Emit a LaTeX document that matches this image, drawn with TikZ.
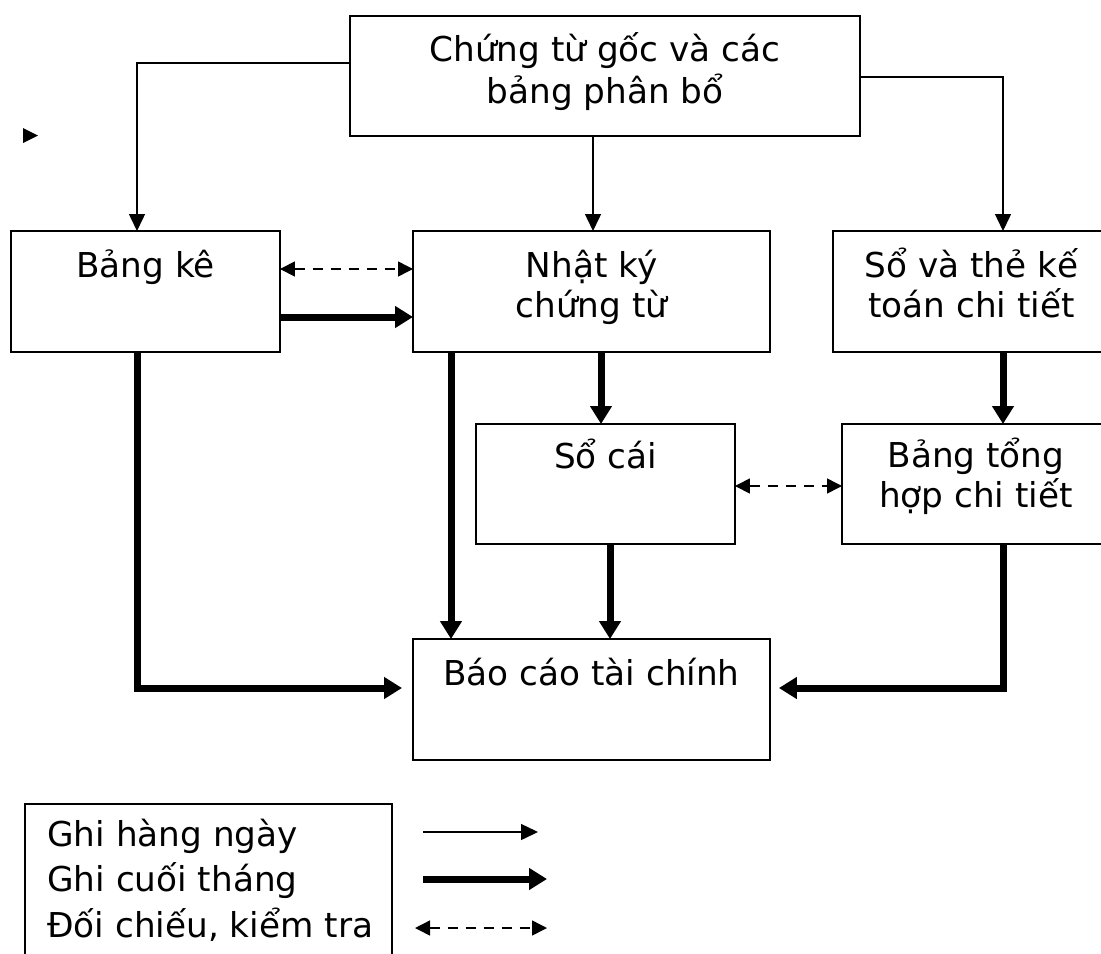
\documentclass[tikz,border=0pt]{standalone}
\usepackage{fontspec}
\setmainfont{DejaVu Sans}
\usepackage{tikz}
\usetikzlibrary{arrows.meta, positioning}

\tikzset{
    box/.style={draw, rectangle, line width=0.85pt, outer sep=0pt, inner sep=0pt, anchor=north west},
    lbl/.style={anchor=north, inner sep=0pt, align=center, text height=0.92cm,
        font=\fontsize{19.5}{22.8}\selectfont},
    lbltwo/.style={lbl, text height=1.72cm},
    thin/.style={line width=0.85pt, -{Triangle[length=0.34cm, width=0.32cm]}},
    thick/.style={line width=0.14cm, -{Triangle[length=0.36cm, width=0.42cm]}},
    doi/.style={line width=0.85pt, dash pattern=on 0.2cm off 0.16cm,
        {Triangle[length=0.3cm, width=0.3cm]}-{Triangle[length=0.3cm, width=0.3cm]}}
}

\begin{document}
\begin{tikzpicture}[x=0.02cm, y=-0.02cm]
        \useasboundingbox (0,0) rectangle (1101,953);

        \node[box, minimum width=10.2cm, minimum height=2.4cm,
            label={[lbltwo, text height=1.74cm, font=\fontsize{19.5}{24}\selectfont]north:Chứng từ gốc và các\\bảng phân bổ}] (src) at (350,16) {};
        \node[box, minimum width=5.38cm, minimum height=2.42cm,
            label={[lbl]north:Bảng kê}] (bk) at (11,231) {};
        \node[box, minimum width=7.14cm, minimum height=2.42cm,
            label={[lbltwo]north:Nhật ký\\chứng từ}] (nk) at (413,231) {};
        \node[box, minimum width=5.54cm, minimum height=2.42cm,
            label={[lbltwo]north:Sổ và thẻ kế\\toán chi tiết}] (sct) at (833,231) {};
        \node[box, minimum width=5.18cm, minimum height=2.4cm,
            label={[lbl, text height=0.88cm]north:Sổ cái}] (sc) at (476,424) {};
        \node[box, minimum width=5.36cm, minimum height=2.4cm,
            label={[lbltwo, text height=1.66cm]north:Bảng tổng\\hợp chi tiết}] (bth) at (842,424) {};
        \node[box, minimum width=7.14cm, minimum height=2.42cm,
            label={[lbl]north:Báo cáo tài chính}] (bctc) at (413,639) {};

        \fill (23,128) -- (38,135.5) -- (23,143) -- cycle;

        \draw[thin] (src.west |- 0,63) -| (bk.north -| 137,0);
        \draw[thin] (src.south -| 593,0) -- (nk.north -| 593,0);
        \draw[thin] (src.east |- 0,77) -| (sct.north -| 1003,0);

        \draw[doi] (bk.east |- 0,269) to (nk.west |- 0,269);
        \draw[thick] (bk.east |- 0,317) to (nk.west |- 0,317);
        \draw[thick, shorten >=0.22cm] (bk.south -| 137,0) |- (bctc.west |- 0,688);
        \draw[thick] (nk.south -| 451,0) to (bctc.north -| 451,0);
        \draw[thick] (nk.south -| 601,0) to (sc.north -| 601,0);
        \draw[thick] (sc.south -| 610,0) to (bctc.north -| 610,0);
        \draw[doi] (sc.east |- 0,486) to (bth.west |- 0,486);
        \draw[thick] (sct.south -| 1003,0) to (bth.north -| 1003,0);
        \draw[thick, shorten >=0.18cm] (bth.south -| 1003,0) |- (bctc.east |- 0,688);

        % legend
        \node[box, minimum width=7.34cm, minimum height=3.9cm] (legend) at (25,804) {};
        \node[anchor=north west, inner sep=0pt, align=left, text height=2.66cm,
            font=\fontsize{19.5}{25.9}\selectfont] (keys) at (47,804)
            {Ghi hàng ngày\\Ghi cuối tháng\\Đối chiếu, kiểm tra};
        \coordinate (t1) at (423,832);
        \coordinate (t2) at (538,832);
        \coordinate (k1) at (423,879);
        \coordinate (k2) at (547,879);
        \coordinate (d1) at (415,928);
        \coordinate (d2) at (547,928);
        \draw[thin] (t1) to (t2);
        \draw[thick] (k1) to (k2);
        \draw[doi] (d1) to (d2);
\end{tikzpicture}
\end{document}
